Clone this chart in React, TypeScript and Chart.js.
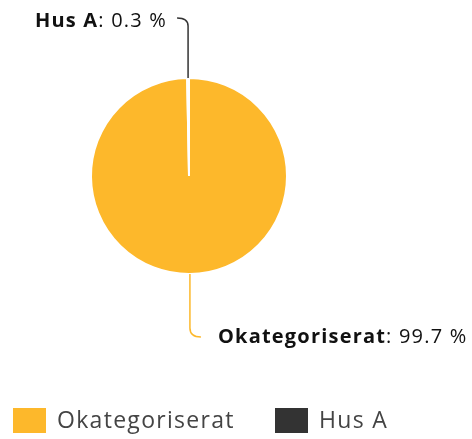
import React, { useEffect, useRef } from 'react';
import { Chart, registerables } from 'chart.js';
Chart.register(...registerables);

const categories = ['Okategoriserat', 'Hus A'];
const values = [99.7, 0.3];
const valueLabels = ['99.7 %', '0.3 %'];
const colors = ['#FDB82B', '#333333'];

const FONT = '"Open Sans", "DejaVu Sans", sans-serif';

const labelPlugin = {
  id: 'sliceLabels',
  afterDatasetsDraw(chart: any) {
    const ctx = chart.ctx;
    const meta = chart.getDatasetMeta(0);
    meta.data.forEach((arc: any, i: number) => {
      const { x, y, startAngle, endAngle, outerRadius } = arc.getProps(['x', 'y', 'startAngle', 'endAngle', 'outerRadius'], true);
      const mid = (startAngle + endAngle) / 2;
      const ex = x + Math.cos(mid) * outerRadius;
      const ey = y + Math.sin(mid) * outerRadius;
      const top = Math.sin(mid) < 0;
      ctx.save();
      ctx.strokeStyle = colors[i];
      ctx.lineWidth = 1.5;
      ctx.beginPath();
      let tx: number, ty: number;
      if (top) {
        ty = ey - 57;
        ctx.moveTo(ex, ey);
        ctx.lineTo(ex, ty + 5);
        ctx.quadraticCurveTo(ex, ty - 3, ex - 11, ty - 3);
        tx = ex - 21;
      } else {
        ty = ey + 63;
        ctx.moveTo(ex, ey);
        ctx.lineTo(ex, ty - 9);
        ctx.quadraticCurveTo(ex, ty, ex + 11, ty);
        tx = ex + 28;
      }
      ctx.stroke();
      (ctx as any).letterSpacing = '1.2px';
      const bold = 'bold 20px ' + FONT;
      const normal = '20px ' + FONT;
      const name = categories[i];
      const rest = ': ' + valueLabels[i];
      ctx.font = bold;
      const w1 = ctx.measureText(name).width;
      ctx.font = normal;
      const w2 = ctx.measureText(rest).width;
      const startX = top ? tx - w1 - w2 : tx;
      ctx.fillStyle = '#111111';
      ctx.textBaseline = 'middle';
      ctx.textAlign = 'left';
      ctx.font = bold;
      ctx.fillText(name, startX, ty);
      ctx.font = normal;
      ctx.fillText(rest, startX + w1, ty);
      ctx.restore();
    });
  },
};

const legendPlugin = {
  id: 'customLegend',
  afterDraw(chart: any) {
    const ctx = chart.ctx;
    const xs = [13, 275];
    const boxY = 408;
    ctx.save();
    (ctx as any).letterSpacing = '1.3px';
    categories.forEach((c, i) => {
      ctx.fillStyle = colors[i];
      ctx.fillRect(xs[i], boxY, 33, 25);
      ctx.fillStyle = '#444444';
      ctx.font = '23px ' + FONT;
      ctx.textBaseline = 'middle';
      ctx.textAlign = 'left';
      ctx.fillText(c, xs[i] + 44, boxY + 13);
    });
    ctx.restore();
  },
};

export default function App() {
  const ref = useRef<HTMLCanvasElement>(null);
  useEffect(() => {
    document.body.style.margin = '0';
    const chart = new Chart(ref.current!, {
      type: 'pie',
      data: {
        labels: categories,
        datasets: [
          {
            data: values,
            backgroundColor: colors,
            borderColor: '#ffffff',
            borderWidth: 2,
          },
        ],
      },
      options: {
        responsive: false,
        animation: false,
        layout: { padding: { left: 10, right: 104, top: 77, bottom: 164 } },
        plugins: { legend: { display: false }, tooltip: { enabled: false } },
      },
      plugins: [labelPlugin, legendPlugin],
    });
    return () => chart.destroy();
  }, []);
  return (
    <div style={{ position: 'absolute', left: 0, top: 0, width: 472, height: 439 }}>
      <canvas ref={ref} width={472} height={439} />
    </div>
  );
}
